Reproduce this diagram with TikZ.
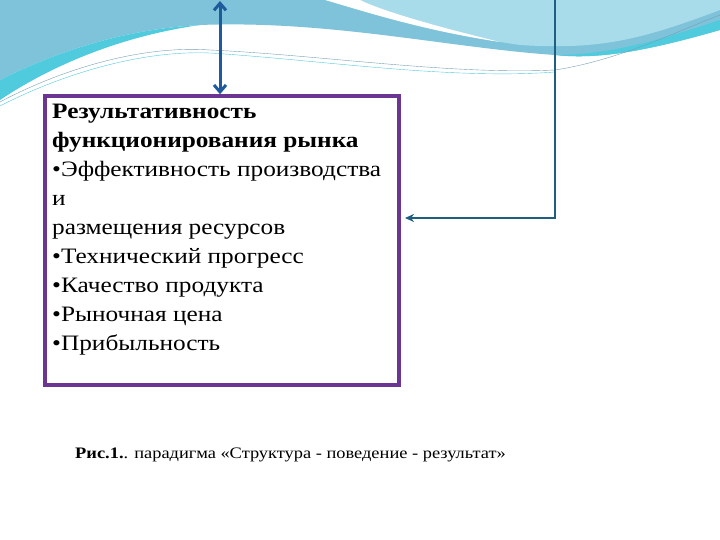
\documentclass[tikz,border=0pt]{standalone}
\usepackage{fontspec}
\setmainfont[FakeStretch=1.15]{Liberation Serif}
\usetikzlibrary{arrows.meta}
\definecolor{bandA}{HTML}{7EC3DA}
\definecolor{bandB}{HTML}{4FCBDD}
\definecolor{lightB}{HTML}{A9DCEA}
\definecolor{arr}{HTML}{1F5A9C}
\definecolor{lin}{HTML}{1E5F80}
\definecolor{boxc}{HTML}{6A3593}
\tikzset{body/.style={anchor=north west,align=left,font=\fontsize{22}{29}\selectfont,inner sep=0pt}}
\begin{document}
\begin{tikzpicture}[x=1pt,y=-1pt]
\useasboundingbox (0,0) rectangle (720,540);
% background waves
\fill[bandA] (0,0) -- (720,0) -- (720,30) .. controls (650,50) and (600,60) .. (555,55)
  .. controls (450,48) and (330,20) .. (200,25) .. controls (110,30) and (40,60) .. (0,80) -- cycle;
\fill[lightB] (330,0) -- (720,0) -- (720,10) .. controls (640,40) and (600,50) .. (520,45)
  .. controls (450,35) and (380,15) .. (330,0) -- cycle;
\fill[white] (325,0) .. controls (360,10) and (420,30) .. (500,42) .. controls (430,25) and (380,10) .. (360,0) -- cycle;
\fill[bandB] (0,80) .. controls (40,60) and (110,30) .. (200,25) .. controls (130,35) and (60,60) .. (0,100) -- cycle;
\fill[bandB] (555,55) .. controls (600,60) and (650,50) .. (720,30) -- (720,20) .. controls (660,40) and (610,55) .. (555,55) -- cycle;
\draw[lin!60,thin] (0,102) .. controls (60,70) and (140,45) .. (210,50) .. controls (320,55) and (450,75) .. (555,70) .. controls (620,60) and (680,30) .. (720,15);
\draw[bandB,thin] (0,106) .. controls (60,75) and (140,50) .. (210,53) .. controls (320,60) and (450,80) .. (555,72);
% box
\node[draw=boxc,line width=3.5pt,minimum width=354pt,minimum height=289pt,inner sep=0pt] (box) at (222,240.5) {};
\node[body] (txt) at (52,104) {\textbf{Результативность}\\\textbf{функционирования рынка}\\•Эффективность производства\\и\\размещения ресурсов\\•Технический прогресс\\•Качество продукта\\•Рыночная цена\\•Прибыльность};
% connectors
\coordinate (top) at (220,1);
\draw[arr,line width=3pt,{Straight Barb[length=7pt,width=12pt]}-{Straight Barb[length=7pt,width=12pt]}] (top) -- (box.north -| top);
\coordinate (rt) at (555,0);
\coordinate (rc) at (555,218);
\coordinate (ae) at (405,218);
\draw[lin,line width=2pt,-{Stealth[length=9pt,width=8pt]}] (rt) -- (rc) -- (ae);
\node[anchor=west,font=\fontsize{16}{18}\selectfont,inner sep=0pt] (cap) at (75,455) {\textbf{Рис.1.}. парадигма «Структура - поведение - результат»};
\end{tikzpicture}
\end{document}
